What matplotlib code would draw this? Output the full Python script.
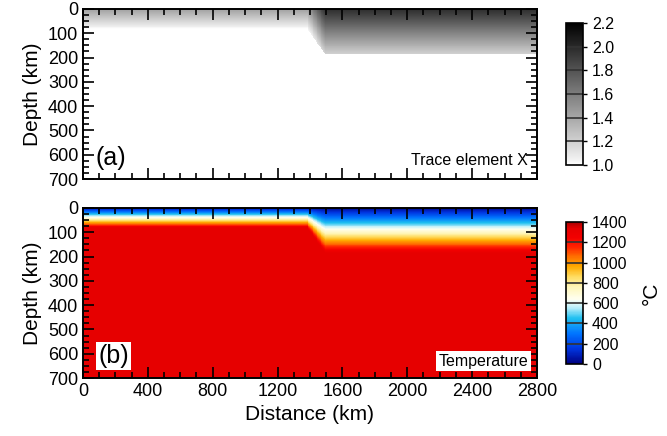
import numpy as np
import matplotlib
matplotlib.use("Agg")
import matplotlib.pyplot as plt
from matplotlib.colors import LinearSegmentedColormap
from matplotlib.ticker import MultipleLocator

plt.rcParams['font.family'] = ['Liberation Sans', 'DejaVu Sans']

# lithosphere geometry (km)
dist_pts = [0, 1380, 1490, 2800]
lith_base = [85, 85, 188, 188]

# trace element X at top and base of the lithosphere, and in the mantle
trace_top = [1.45, 1.45, 2.0, 2.0]
trace_base = [1.0, 1.0, 1.2, 1.2]
trace_mantle = 1.0

# temperature (deg C)
temp_surface = 0
temp_mantle = 1330

trace_ticks = [1.0, 1.2, 1.4, 1.6, 1.8, 2.0, 2.2]
temp_ticks = [0, 200, 400, 600, 800, 1000, 1200, 1400]


def build_fields():
	"""grids of trace element and temperature over distance/depth"""
	x = np.arange(0, 2801, 5)
	z = np.arange(0, 701, 2)
	X, Z = np.meshgrid(x, z)
	base = np.interp(X, dist_pts, lith_base)
	top_v = np.interp(X, dist_pts, trace_top)
	bot_v = np.interp(X, dist_pts, trace_base)
	frac = np.clip(Z / base, 0, 1)
	trace = np.where(Z <= base, top_v + (bot_v - top_v) * frac, trace_mantle)
	temp = temp_surface + (temp_mantle - temp_surface) * frac
	return trace, temp


def style_axes(ax, xlabels=True):
	ax.set_xlim(0, 2800)
	ax.set_ylim(700, 0)
	ax.xaxis.set_major_locator(MultipleLocator(400))
	ax.xaxis.set_minor_locator(MultipleLocator(100))
	ax.yaxis.set_major_locator(MultipleLocator(100))
	ax.yaxis.set_minor_locator(MultipleLocator(25))
	ax.tick_params(which='both', direction='in', top=True, right=True, labelsize=13, width=1.2)
	ax.tick_params(which='major', length=8)
	ax.tick_params(which='minor', length=4)
	if not xlabels:
		ax.tick_params(labelbottom=False)
	for s in ax.spines.values():
		s.set_linewidth(1.4)
	ax.set_ylabel('Depth (km)', fontsize=15)


def style_cbar(cb, ticks, fmt):
	cb.set_ticks(ticks)
	cb.set_ticklabels([fmt.format(t) for t in ticks])
	cb.ax.tick_params(labelsize=11.5, length=3, width=1)
	for t in ticks[1:-1]:
		cb.ax.axhline(t, color='#333333', lw=1.2)
	cb.outline.set_linewidth(1.2)


def main():
	trace, temp = build_fields()

	grey = LinearSegmentedColormap.from_list('grey', [(0, '#ffffff'), (0.03, '#f3f3f3'), (1, '#000000')])
	temp_cmap = LinearSegmentedColormap.from_list('temp', [
		(0 / 1400, '#000080'),
		(150 / 1400, '#0035e0'),
		(300 / 1400, '#0075ff'),
		(450 / 1400, '#20c0f0'),
		(560 / 1400, '#c0f0fa'),
		(640 / 1400, '#fffff0'),
		(760 / 1400, '#fff6b8'),
		(860 / 1400, '#ffdc60'),
		(960 / 1400, '#ffaa00'),
		(1060 / 1400, '#ff7000'),
		(1160 / 1400, '#ff2000'),
		(1250 / 1400, '#f20000'),
		(1340 / 1400, '#e60000'),
		(1400 / 1400, '#a80000'),
	])

	fig = plt.figure(figsize=(6.67, 4.36), dpi=100)
	ax1 = fig.add_axes([0.1244, 0.5894, 0.6807, 0.39])
	ax2 = fig.add_axes([0.1244, 0.1330, 0.6807, 0.39])
	cax1 = fig.add_axes([0.8486, 0.6216, 0.0255, 0.3257])
	cax2 = fig.add_axes([0.8486, 0.1651, 0.0255, 0.3257])

	im1 = ax1.imshow(trace, cmap=grey, vmin=1.0, vmax=2.2, aspect='auto',
		extent=[0, 2800, 700, 0], interpolation='nearest')
	im2 = ax2.imshow(temp, cmap=temp_cmap, vmin=0, vmax=1400, aspect='auto',
		extent=[0, 2800, 700, 0], interpolation='nearest')

	style_axes(ax1, xlabels=False)
	style_axes(ax2)
	ax2.set_xlabel('Distance (km)', fontsize=15)

	ax1.text(80, 612, '(a)', fontsize=18, va='center', ha='left')
	ax2.text(95, 610, '(b)', fontsize=18, va='center', ha='left',
		bbox=dict(facecolor='white', edgecolor='none', pad=1.5))
	ax1.text(2745, 622, 'Trace element X', fontsize=11.5, va='center', ha='right')
	ax2.text(2745, 630, 'Temperature', fontsize=11.5, va='center', ha='right',
		bbox=dict(facecolor='white', edgecolor='none', pad=2))

	cb1 = fig.colorbar(im1, cax=cax1)
	style_cbar(cb1, trace_ticks, '{:.1f}')
	cb2 = fig.colorbar(im2, cax=cax2)
	style_cbar(cb2, temp_ticks, '{:d}')
	cb2.set_label('\u00b0C', fontsize=15, labelpad=10)

	fig.savefig('out.png', dpi=100)


if __name__ == "__main__":
	main()
